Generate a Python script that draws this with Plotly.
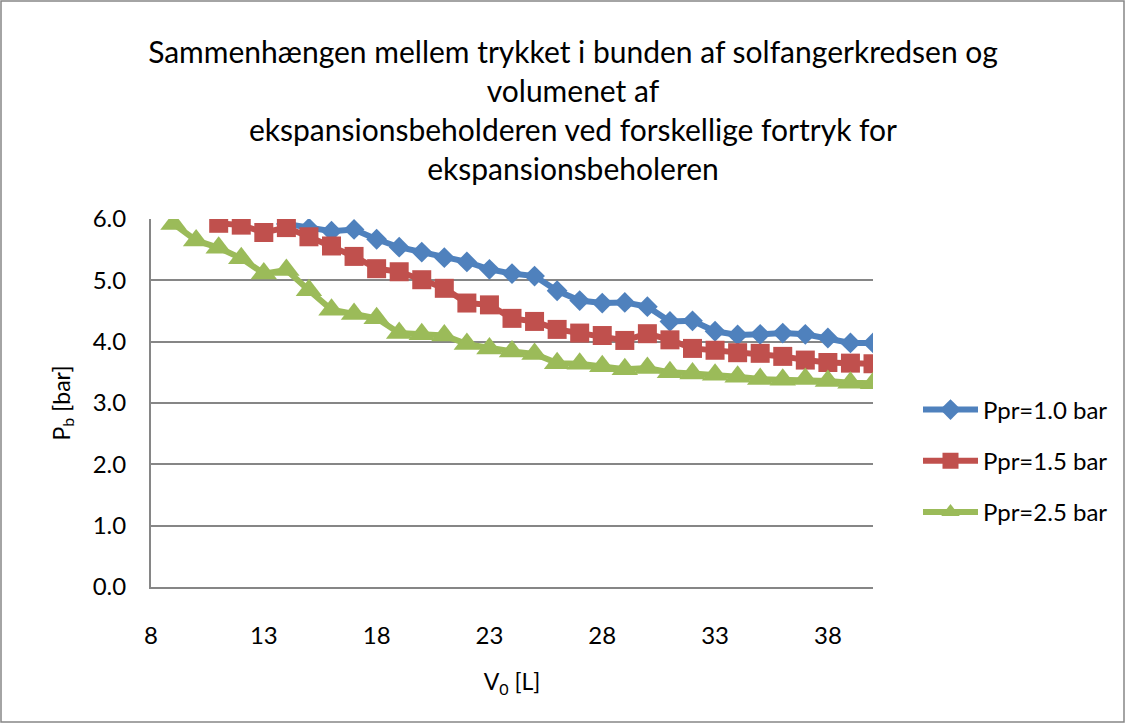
import plotly.graph_objects as go

# Expansion vessel volume V0 [L]
v0_p10 = list(range(14, 41))
v0_p15 = list(range(11, 41))
v0_p25 = list(range(9, 41))

# Pressure at the bottom of the solar collector circuit Pb [bar]
pb_p10 = [5.92, 5.85, 5.80, 5.83, 5.67, 5.54, 5.46, 5.37, 5.30, 5.18, 5.11, 5.07,
          4.83, 4.67, 4.63, 4.64, 4.57, 4.33, 4.34, 4.17, 4.11, 4.12, 4.14, 4.12,
          4.06, 3.98, 3.98]
pb_p15 = [5.93, 5.90, 5.78, 5.86, 5.71, 5.56, 5.39, 5.19, 5.14, 5.01, 4.87, 4.63,
          4.60, 4.38, 4.33, 4.20, 4.14, 4.10, 4.02, 4.13, 4.03, 3.89, 3.86, 3.82,
          3.81, 3.76, 3.70, 3.66, 3.65, 3.64]
pb_p25 = [5.92, 5.65, 5.53, 5.36, 5.11, 5.17, 4.84, 4.52, 4.45, 4.38, 4.14, 4.12,
          4.10, 3.96, 3.89, 3.84, 3.80, 3.65, 3.64, 3.60, 3.55, 3.57, 3.50, 3.48,
          3.46, 3.43, 3.39, 3.38, 3.39, 3.36, 3.33, 3.32]

series_names = ["Ppr=1.0 bar", "Ppr=1.5 bar", "Ppr=2.5 bar"]
series_colors = ["#4F81BD", "#C0504D", "#9BBB59"]
series_symbols = ["diamond", "square", "triangle-up"]
series_sizes = [16, 19, 23]

x_ticks = [8, 13, 18, 23, 28, 33, 38]

FONT = "Lato, Calibri, sans-serif"

fig = go.Figure()
for name, xs, ys, col, sym, sz in zip(series_names, [v0_p10, v0_p15, v0_p25],
                                      [pb_p10, pb_p15, pb_p25], series_colors,
                                      series_symbols, series_sizes):
    fig.add_trace(go.Scatter(
        x=xs, y=ys, name=name, mode="lines+markers", legendgroup=name,
        line=dict(color=col, width=6),
        marker=dict(symbol=sym, size=sz, color=col, line=dict(width=0)),
    ))

W, H = 1126, 724
L, R, T, B = 151, 253, 219, 137
pw, ph = W - L - R, H - T - B

fig.update_layout(
    width=W, height=H,
    margin=dict(l=L, r=R, t=T, b=B),
    paper_bgcolor="white", plot_bgcolor="white",
    font=dict(family=FONT, color="black", size=23),
    title=dict(
        text="Sammenhængen mellem trykket i bunden af solfangerkredsen og<br>"
             "volumenet af<br>"
             "ekspansionsbeholderen ved forskellige fortryk for<br>"
             "ekspansionsbeholeren",
        x=573 / W, xanchor="center", yref="container",
        y=1 - 63 / H, yanchor="middle",
        font=dict(family=FONT, size=30, color="black"),
    ),
    xaxis=dict(
        range=[8, 40], tickmode="array", tickvals=x_ticks,
        showgrid=False, zeroline=False,
        showline=True, linecolor="#868686", linewidth=2,
        ticks="", ticklabelstandoff=26,
        tickfont=dict(size=24),
        title=dict(text="V<sub>0</sub> [L]", font=dict(size=23), standoff=26),
    ),
    yaxis=dict(
        range=[0, 6], dtick=1, tickformat=".1f",
        showgrid=True, gridcolor="#868686", gridwidth=1.5,
        zeroline=False, showline=True, linecolor="#868686", linewidth=2,
        ticks="", ticklabelstandoff=18,
        tickfont=dict(size=24),
        title=dict(text="P<sub>b</sub> [bar]", font=dict(size=23), standoff=16),
    ),
    legend=dict(
        x=(918 - L) / pw, xanchor="left", y=(587 - 461) / ph, yanchor="middle",
        font=dict(size=24), tracegroupgap=17, itemwidth=55,
        bgcolor="rgba(0,0,0,0)",
    ),
    showlegend=True,
)

# Chart frame
fig.add_shape(
    type="rect", xref="paper", yref="paper",
    x0=(1 - L) / pw, x1=(W - 2 - L) / pw,
    y0=-(H - 2 - (H - B)) / ph,
    y1=1 + (T - 1) / ph,
    line=dict(color="#868686", width=1.5), layer="below",
)

fig.write_html("out.html")
